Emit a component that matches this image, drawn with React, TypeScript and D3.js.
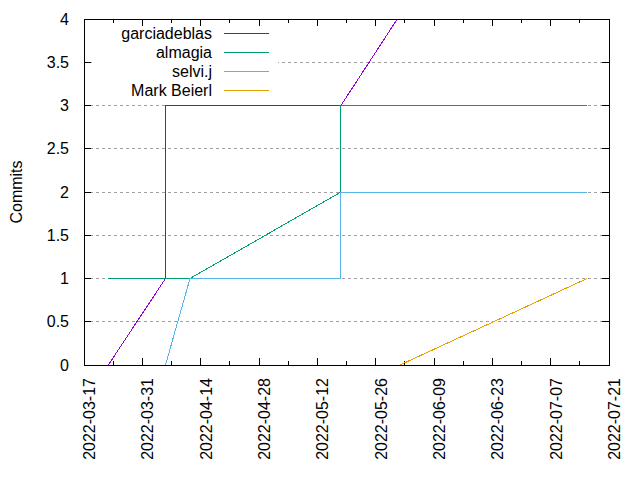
import React from "react";
import * as d3 from "d3";

// series names and colours (gnuplot default palette)
const names = ["garciadeblas", "almagia", "selvi.j", "Mark Beierl"];
const colors = ["#9400d3", "#009e73", "#56b4e9", "#e69f00"];

// commit dates and cumulative counts per author
const garciadeblasDates = ["2022-03-22T20:00", "2022-04-05T13:30", "2022-04-05T13:30", "2022-05-17T16:00", "2022-05-31T04:30"];
const garciadeblasCommits = [0, 1, 3, 3, 4];

const almagiaDates = ["2022-03-22T20:00", "2022-04-11T10:30", "2022-05-17T16:00", "2022-05-17T16:00", "2022-07-15T18:00"];
const almagiaCommits = [1, 1, 2, 3, 3];

const selviDates = ["2022-04-05T13:30", "2022-04-11T10:30", "2022-05-17T16:00", "2022-05-17T16:00", "2022-07-15T18:00"];
const selviCommits = [0, 1, 1, 2, 2];

const beierlDates = ["2022-05-31T20:00", "2022-07-15T18:00"];
const beierlCommits = [0, 1];

const xDomain = ["2022-03-17", "2022-07-21"];
const yTicks = [0, 0.5, 1, 1.5, 2, 2.5, 3, 3.5, 4];

const toDate = (s: string) => new Date(s.length > 10 ? s + ":00Z" : s + "T00:00:00Z");

const series = [
    [garciadeblasDates, garciadeblasCommits],
    [almagiaDates, almagiaCommits],
    [selviDates, selviCommits],
    [beierlDates, beierlCommits],
].map(([dates, counts], i) => ({
    name: names[i],
    color: colors[i],
    points: (dates as string[]).map((d, j) => ({ date: toDate(d), value: (counts as number[])[j] })),
}));

const width = 640;
const height = 480;
const left = 84;
const right = 609;
const top = 19;
const bottom = 365;
const font = "'Liberation Sans', Arial, sans-serif";

const App = () => {
    const start = toDate(xDomain[0]);
    const end = toDate(xDomain[1]);

    const x = d3.scaleUtc().domain([start, end]).range([left, right]);
    const y = d3.scaleLinear().domain([0, 4]).range([bottom, top]);

    const majorTicks = d3.utcDay.range(start, d3.utcDay.offset(end, 1), 14);
    const minorTicks = d3.utcDay.range(start, d3.utcDay.offset(end, 1), 7);
    const fmt = d3.utcFormat("%Y-%m-%d");

    const line = d3.line<{ date: Date; value: number }>()
        .x(d => x(d.date))
        .y(d => y(d.value));

    return (
        <svg width={width} height={height} style={{ position: "absolute", left: 0, top: 0, background: "#fff" }}
            fontFamily={font} fontSize={16} shapeRendering="crispEdges">
            <defs>
                <clipPath id="plot">
                    <rect x={left} y={top} width={right - left} height={bottom - top} />
                </clipPath>
            </defs>

            {/* horizontal grid */}
            {yTicks.map(t => (
                <line key={"g" + t} x1={left} x2={right} y1={y(t)} y2={y(t)}
                    stroke="#a0a0a0" strokeWidth={1} strokeDasharray="3,3" />
            ))}

            {/* legend backing */}
            <rect x={92} y={22} width={186} height={78} fill="#fff" />

            {/* ticks */}
            {yTicks.map(t => (
                <g key={"yt" + t}>
                    <line x1={left} x2={left + 7} y1={y(t)} y2={y(t)} stroke="#000" />
                    <line x1={right} x2={right - 7} y1={y(t)} y2={y(t)} stroke="#000" />
                    <text x={left - 15} y={y(t)} dy="0.35em" textAnchor="end">{t}</text>
                </g>
            ))}
            {minorTicks.map(t => {
                const major = majorTicks.some(m => +m === +t);
                const len = major ? 7 : 4;
                return (
                    <g key={"xt" + +t}>
                        <line x1={x(t)} x2={x(t)} y1={bottom} y2={bottom - len} stroke="#000" />
                        <line x1={x(t)} x2={x(t)} y1={top} y2={top + len} stroke="#000" />
                    </g>
                );
            })}
            {majorTicks.map(t => (
                <text key={"xl" + +t} transform={`translate(${x(t)},${bottom + 13}) rotate(-90)`}
                    y={11} textAnchor="end">{fmt(t)}</text>
            ))}

            {/* data */}
            <g clipPath="url(#plot)">
                {series.map(s => (
                    <path key={s.name} d={line(s.points) || ""} fill="none" stroke={s.color} strokeWidth={1} />
                ))}
            </g>

            {/* frame */}
            <rect x={left} y={top} width={right - left} height={bottom - top} fill="none" stroke="#000" />

            {/* legend */}
            {series.map((s, i) => (
                <g key={"lg" + s.name}>
                    <text x={212} y={33 + i * 19} dy="0.35em" textAnchor="end">{s.name}</text>
                    <line x1={224} x2={269} y1={33 + i * 19} y2={33 + i * 19} stroke={s.color} />
                </g>
            ))}

            <text transform={`translate(22,${(top + bottom) / 2}) rotate(-90)`} textAnchor="middle">Commits</text>
        </svg>
    );
};

export default App;
